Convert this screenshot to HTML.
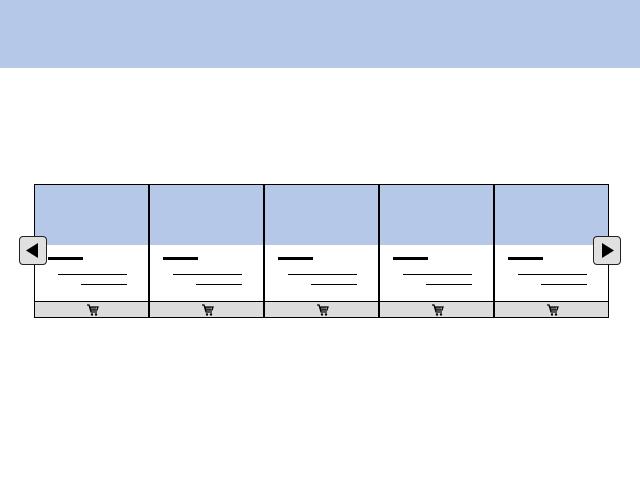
<!DOCTYPE html>
<html><head><style>
body{margin:0;width:640px;height:480px;background:#fff;position:relative;overflow:hidden;font-family:"Liberation Sans",sans-serif}
.abs{position:absolute}
.card{position:absolute;top:184px;width:115px;height:134px;box-sizing:border-box;border:1px solid #000;border-right:none;background:#fff}
.d{border-left:2px solid #000}
.img{position:absolute;left:0;top:0;right:0;height:60px;background:#b6c8e8}
.t{position:absolute;left:13px;top:72px;width:35px;height:3px;background:#000}
.l1{position:absolute;left:23px;top:89px;width:69px;height:1px;background:#000}
.l2{position:absolute;left:46px;top:99px;width:46px;height:1px;background:#000}
.ft{position:absolute;left:0;right:0;bottom:0;height:15px;background:#dcdcdc;border-top:1px solid #000}
.ft svg{position:absolute;left:50%;top:2px;margin-left:-6px}
.btn{position:absolute;top:236px;width:28px;height:29px;box-sizing:border-box;border:1px solid #222;border-radius:4px;background:#e0e0e0}
</style></head><body>
<div class="abs" style="left:0;top:0;width:640px;height:68px;background:#b6c8e8"></div>
<svg width="0" height="0" style="position:absolute"><defs><g id="cart"><path d="M1,1 H3 L5,8 H11 M4,3 H12 L11,6 H5" fill="none" stroke="#000" stroke-width="1.3"/><path d="M5,3 V6 M7,3 V6 M9,3 V6" stroke="#000" stroke-width="1"/><circle cx="6" cy="10.5" r="1.2" fill="#000"/><circle cx="10" cy="10.5" r="1.2" fill="#000"/></g></defs></svg>
<div class="card" style="left:34px"><div class="img"></div><div class="t"></div><div class="l1"></div><div class="l2"></div><div class="ft"><svg width="13" height="12"><use href="#cart"/></svg></div></div>
<div class="card d" style="left:148px;width:116px"><div class="img"></div><div class="t"></div><div class="l1"></div><div class="l2"></div><div class="ft"><svg width="13" height="12"><use href="#cart"/></svg></div></div>
<div class="card d" style="left:263px;width:116px"><div class="img"></div><div class="t"></div><div class="l1"></div><div class="l2"></div><div class="ft"><svg width="13" height="12"><use href="#cart"/></svg></div></div>
<div class="card d" style="left:378px;width:116px"><div class="img"></div><div class="t"></div><div class="l1"></div><div class="l2"></div><div class="ft"><svg width="13" height="12"><use href="#cart"/></svg></div></div>
<div class="card d" style="left:493px;width:116px;border-right:1px solid #000"><div class="img"></div><div class="t"></div><div class="l1"></div><div class="l2"></div><div class="ft"><svg width="13" height="12"><use href="#cart"/></svg></div></div>
<div class="btn" style="left:19px"><svg width="26" height="27" style="position:absolute;left:0;top:0"><polygon points="6,13.5 18,6 18,21" fill="#000"/></svg></div>
<div class="btn" style="left:593px"><svg width="26" height="27" style="position:absolute;left:0;top:0"><polygon points="20,13.5 8,6 8,21" fill="#000"/></svg></div>
</body></html>
